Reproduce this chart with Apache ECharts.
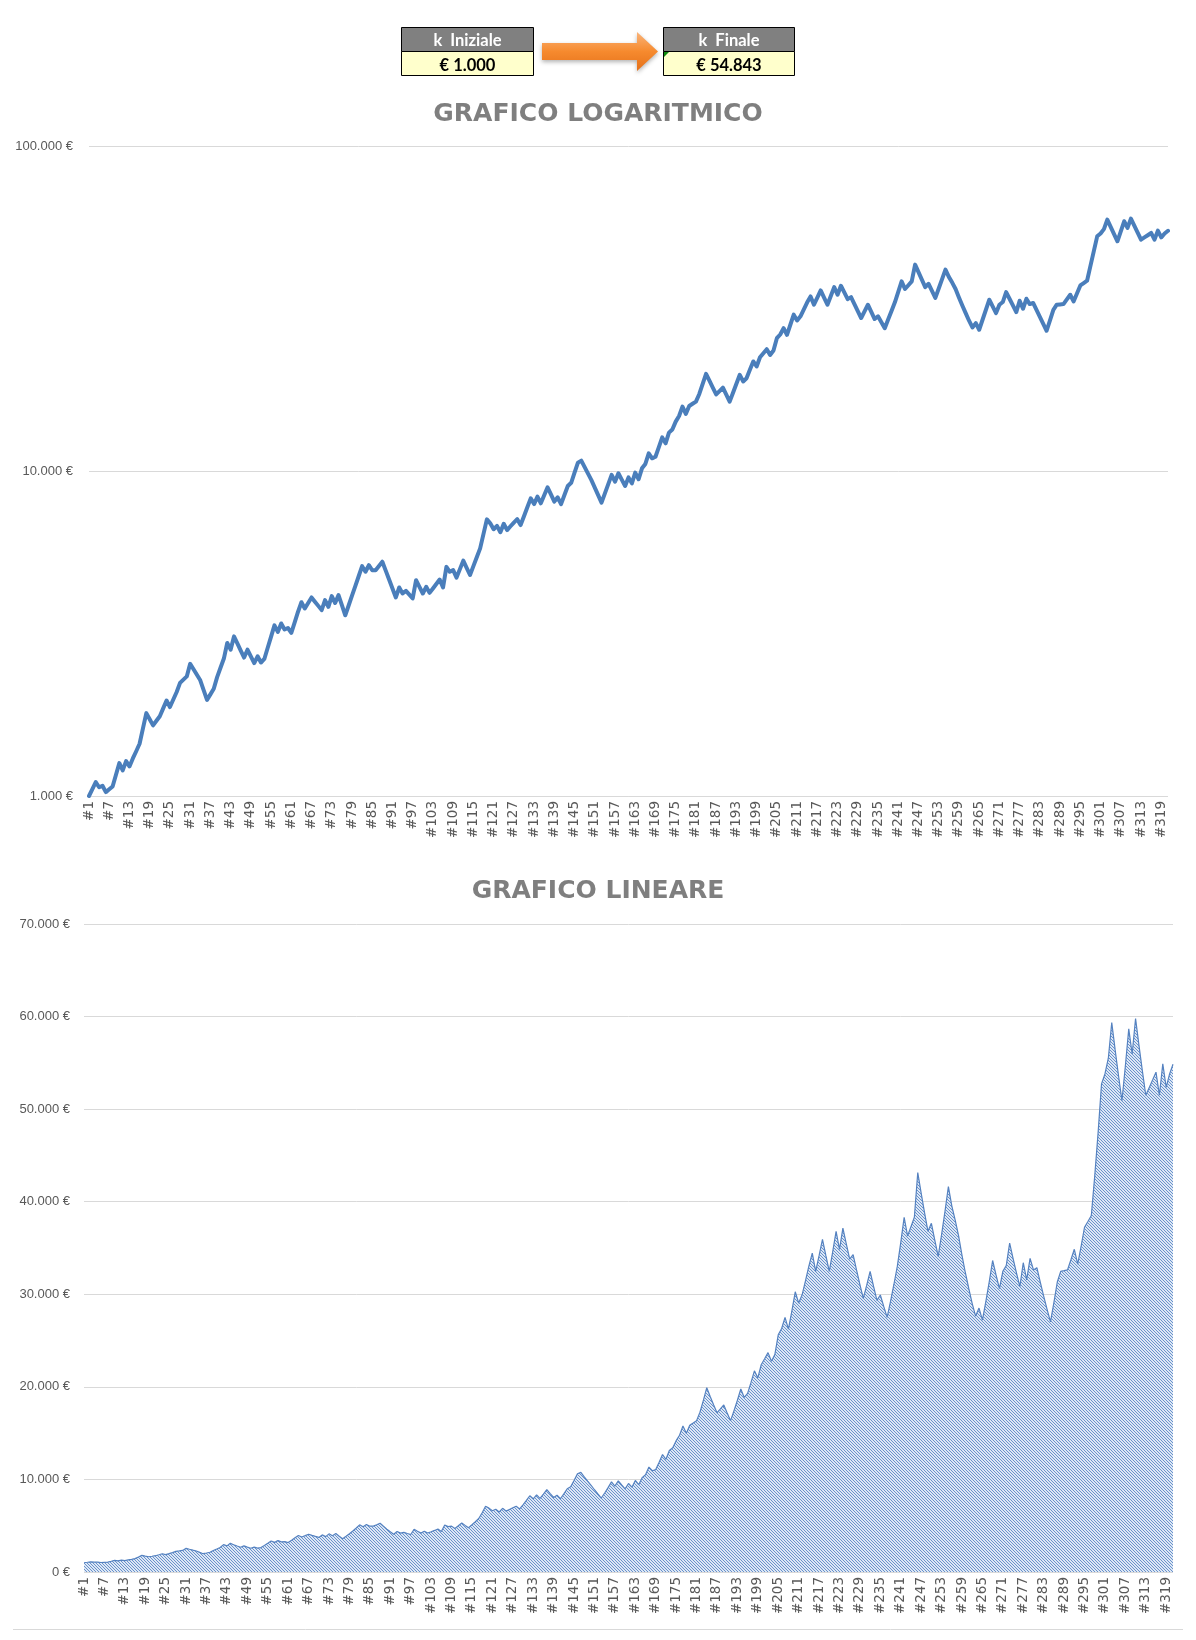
<!DOCTYPE html>
<html>
<head>
    <meta charset="UTF-8">
    <title>Grafico capitale</title>
    <style>
        html, body { margin: 0; padding: 0; background: #fff; }
    </style>
</head>
<body>
<div id="main" style="width:1196px;height:1640px"></div>
<script src="https://cdn.jsdelivr.net/npm/echarts@6/dist/echarts.min.js"></script>
<script type="text/javascript">
    // capitale iniziale / finale
    var kIniziale = 1000;
    var kFinale = 54843;

    // valori del capitale per ogni operazione (#1 ... #321)
    var capitale = [
        1000,1050,1103,1064,1075,1028,1049,1070,1162,1262,
        1199,1280,1233,1305,1373,1448,1614,1799,1722,1649,
        1704,1760,1860,1967,1878,1981,2089,2228,2280,2333,
        2551,2454,2360,2270,2118,1976,2055,2137,2322,2480,
        2648,2958,2820,3098,2947,2803,2667,2820,2690,2565,
        2690,2575,2640,2858,3094,3350,3198,3395,3252,3288,
        3177,3424,3690,3946,3776,3927,4083,3963,3846,3733,
        4008,3820,4122,3925,4150,3864,3597,3856,4134,4432,
        4752,5095,4897,5130,4950,4950,5100,5259,4937,4634,
        4350,4083,4381,4198,4276,4164,4055,4613,4400,4198,
        4402,4217,4352,4490,4634,4381,5070,4897,4955,4700,
        4990,5297,5036,4787,5097,5427,5780,6406,7100,6900,
        6620,6780,6480,6880,6580,6760,6940,7110,6817,7261,
        7733,8237,7910,8340,7955,8419,8910,8469,8050,8300,
        7910,8433,8990,9200,9880,10610,10760,10275,9812,9370,
        8886,8426,7990,8533,9112,9730,9270,9840,9405,8990,
        9560,9160,9890,9430,10190,10510,11330,10940,11060,11847,
        12690,12170,13120,13420,14190,14770,15780,14990,15850,16098,
        16350,17260,18538,19910,18962,18060,17200,17620,18050,17179,
        16350,17418,18555,19770,18860,19300,20478,21730,20970,22390,
        23035,23700,22760,23480,25620,26300,27510,26240,28183,30270,
        29050,29920,31441,33040,34450,32480,34166,35940,34166,32480,
        34572,36800,34850,37150,35435,33800,34280,32628,31055,29560,
        30985,32480,30875,29350,29920,28689,27510,29243,31085,33040,
        35582,38320,36300,37296,38320,43150,40920,38805,36800,37670,
        35841,34100,36446,38953,41640,39560,38000,36300,34200,32300,
        30600,29000,27650,28510,27200,29200,31346,33650,32094,30610,
        32480,33100,35530,33890,32320,30830,33410,31560,33880,32630,
        32880,31300,29800,28370,27010,29090,31330,32480,32550,32630,
        33727,34860,33250,35188,37240,37870,38510,42765,47490,52730,
        53800,55500,59360,56400,53580,50910,54653,58670,55960,59790,
        56890,54130,51500,52320,53150,54000,51500,54900,52360,53800,
        54843
    ];

    // etichette categorie: #1, #2, ...
    var operazioni = [];
    for (var i = 0; i < capitale.length; i++) {
        operazioni.push('#' + (i + 1));
    }

    var titoloLog = 'GRAFICO LOGARITMICO';
    var titoloLin = 'GRAFICO LINEARE';

    function euro(v) {
        v = Math.round(v);
        return v.toString().replace(/\B(?=(\d{3})+(?!\d))/g, '.') + ' €';
    }

    // riempimento tratteggiato per il grafico lineare
    var hatch = document.createElement('canvas');
    hatch.width = 3;
    hatch.height = 3;
    var hctx = hatch.getContext('2d');
    hctx.fillStyle = '#dde7f5';
    hctx.fillRect(0, 0, 3, 3);
    hctx.fillStyle = '#6992cb';
    for (var p = 0; p < 3; p++) {
        hctx.fillRect(p, p, 1, 1);
    }

    var catLabel = {
        interval: 5,
        rotate: 90,
        margin: 5,
        color: '#595959',
        fontFamily: 'DejaVu Sans',
        fontSize: 13.5
    };
    var yLabelStyle = {
        color: '#595959',
        fontFamily: 'Liberation Sans',
        fontSize: 13,
        formatter: euro
    };
    var gridLine = { show: true, lineStyle: { color: '#d9d9d9', width: 1 } };
    var titleStyle = { color: '#7f7f7f', fontFamily: 'DejaVu Sans', fontWeight: 'bold', fontSize: 25 };

    var option = {
        backgroundColor: '#fff',
        animation: false,
        title: [
            { text: titoloLog, left: 'center', top: 102, padding: 0, textStyle: titleStyle },
            { text: titoloLin, left: 'center', top: 879, padding: 0, textStyle: titleStyle }
        ],
        grid: [
            { left: 89, right: 28, top: 146, height: 650 },
            { left: 84, right: 23, top: 924, height: 648 }
        ],
        xAxis: [
            {
                gridIndex: 0,
                type: 'category',
                boundaryGap: false,
                data: operazioni,
                axisLine: { show: false },
                axisTick: { show: false },
                axisLabel: catLabel
            },
            {
                gridIndex: 1,
                type: 'category',
                boundaryGap: false,
                data: operazioni,
                axisLine: { show: false },
                axisTick: { show: false },
                axisLabel: catLabel
            }
        ],
        yAxis: [
            {
                gridIndex: 0,
                type: 'log',
                logBase: 10,
                min: 1000,
                max: 100000,
                axisLine: { show: false },
                axisTick: { show: false },
                axisLabel: Object.assign({ margin: 16 }, yLabelStyle),
                splitLine: gridLine
            },
            {
                gridIndex: 1,
                type: 'value',
                min: 0,
                max: 70000,
                interval: 10000,
                axisLine: { show: false },
                axisTick: { show: false },
                axisLabel: Object.assign({ margin: 14 }, yLabelStyle),
                splitLine: gridLine
            }
        ],
        series: [
            {
                name: 'log',
                type: 'line',
                xAxisIndex: 0,
                yAxisIndex: 0,
                data: capitale,
                symbol: 'none',
                lineStyle: { color: '#4a7ebb', width: 4, join: 'round', cap: 'round' }
            },
            {
                name: 'lineare',
                type: 'line',
                xAxisIndex: 1,
                yAxisIndex: 1,
                data: capitale,
                symbol: 'none',
                lineStyle: { color: '#5582c0', width: 1.2 },
                areaStyle: { color: { image: hatch, repeat: 'repeat' }, opacity: 1 }
            }
        ],
        graphic: [
            // riquadro k Iniziale
            { type: 'rect', shape: { x: 401.5, y: 27.5, width: 132, height: 24 }, style: { fill: '#808080', stroke: '#000', lineWidth: 1 } },
            { type: 'rect', shape: { x: 401.5, y: 51.5, width: 132, height: 24 }, style: { fill: '#ffffcc', stroke: '#000', lineWidth: 1 } },
            { type: 'text', x: 467.5, y: 41, style: { text: 'k  Iniziale', fill: '#fff', font: 'bold 16.5px Lato', textAlign: 'center', textVerticalAlign: 'middle' } },
            { type: 'text', x: 467.5, y: 65.5, style: { text: '€ ' + euro(kIniziale).replace(' €', ''), fill: '#000', font: 'bold 16.5px Lato', textAlign: 'center', textVerticalAlign: 'middle' } },
            // freccia
            {
                type: 'polygon',
                shape: { points: [[542, 43], [637, 43], [637, 32], [658, 51.5], [637, 71], [637, 60], [542, 60]] },
                style: {
                    fill: new echarts.graphic.LinearGradient(0, 0, 0, 1, [
                        { offset: 0, color: '#fab47a' },
                        { offset: 0.5, color: '#f68a2e' },
                        { offset: 1, color: '#e5711a' }
                    ]),
                    shadowBlur: 4,
                    shadowOffsetY: 2,
                    shadowColor: 'rgba(0,0,0,0.3)'
                }
            },
            // riquadro k Finale
            { type: 'rect', shape: { x: 663.5, y: 27.5, width: 131, height: 24 }, style: { fill: '#808080', stroke: '#000', lineWidth: 1 } },
            { type: 'rect', shape: { x: 663.5, y: 51.5, width: 131, height: 24 }, style: { fill: '#ffffcc', stroke: '#000', lineWidth: 1 } },
            { type: 'polygon', shape: { points: [[664, 52], [669, 52], [664, 57]] }, style: { fill: '#108a10' } },
            { type: 'text', x: 729, y: 41, style: { text: 'k  Finale', fill: '#fff', font: 'bold 16.5px Lato', textAlign: 'center', textVerticalAlign: 'middle' } },
            { type: 'text', x: 729, y: 65.5, style: { text: '€ ' + euro(kFinale).replace(' €', ''), fill: '#000', font: 'bold 16.5px Lato', textAlign: 'center', textVerticalAlign: 'middle' } },
            // bordo inferiore del grafico
            { type: 'line', shape: { x1: 13, y1: 1629.5, x2: 1183, y2: 1629.5 }, style: { stroke: '#d9d9d9', lineWidth: 1 } }
        ]
    };

    var myChart = echarts.init(document.getElementById('main'));
    myChart.setOption(option);
</script>
</body>
</html>
